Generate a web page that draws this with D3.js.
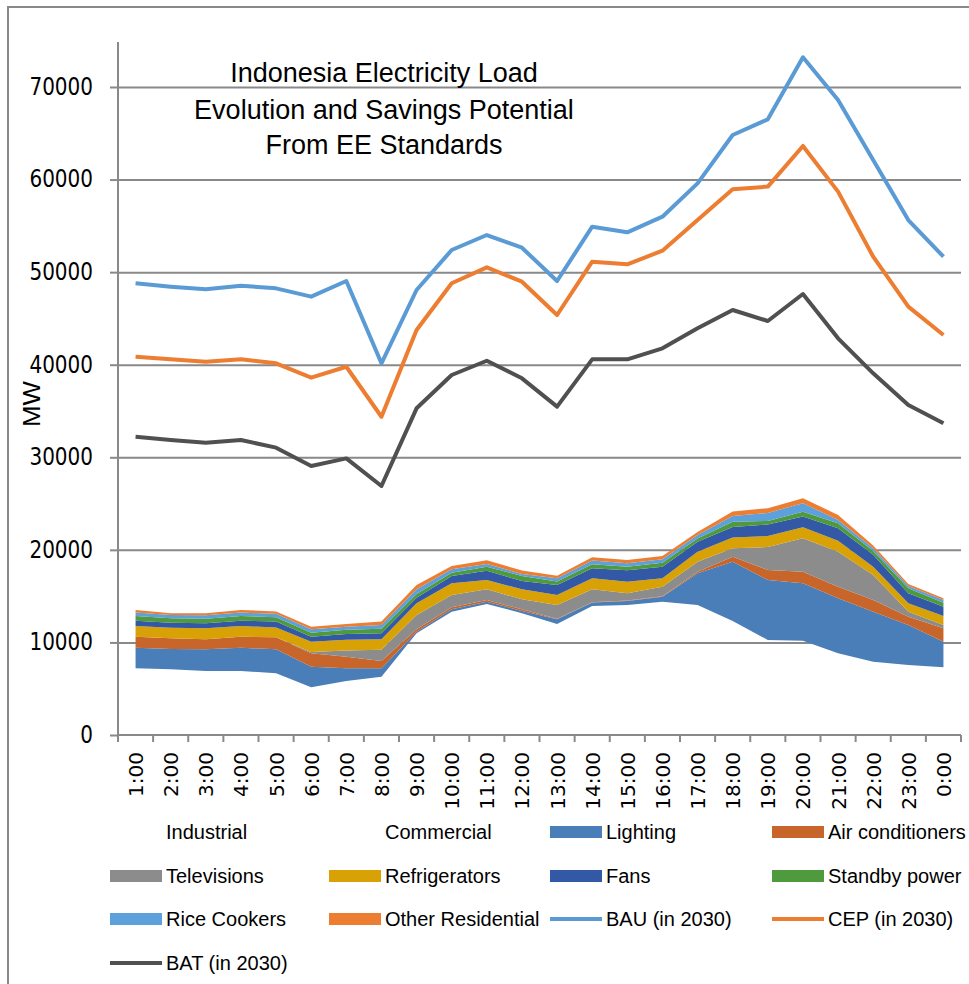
<!DOCTYPE html>
<html>
<head>
<meta charset="utf-8">
<script src="https://cdn.jsdelivr.net/npm/d3@7"></script>
<style>
  body { margin: 0; background: #fff; }
</style>
</head>
<body>
<div id="chart"></div>
<script>
// hours of the day
const hours = ["1:00", "2:00", "3:00", "4:00", "5:00", "6:00", "7:00", "8:00", "9:00", "10:00", "11:00", "12:00",
  "13:00", "14:00", "15:00", "16:00", "17:00", "18:00", "19:00", "20:00", "21:00", "22:00", "23:00", "0:00"];

// stacked load by end use (MW)
const industrial = [4300, 4250, 4150, 4150, 4000, 3100, 3500, 3800, 6600, 8000, 8500, 7900, 7200, 8400, 8400, 8600, 8400, 7400, 6200, 6100, 5300, 4750, 4550, 4400];
const commercial = [2900, 2850, 2760, 2760, 2670, 2050, 2330, 2500, 4390, 5320, 5650, 5250, 4790, 5540, 5640, 5800, 5640, 4920, 4060, 4090, 3530, 3170, 3010, 2910];
const lighting = [2230, 2190, 2340, 2520, 2590, 2230, 1370, 910, 170, 260, 250, 250, 510, 360, 430, 540, 3420, 6400, 6480, 6200, 5940, 5400, 4320, 2770];
const airConditioners = [1190, 1160, 1080, 1190, 1300, 1450, 1250, 790, 260, 220, 180, 180, 50, 50, 50, 50, 170, 540, 1080, 1250, 1250, 1260, 900, 1450];
const televisions = [0, 0, 0, 0, 0, 140, 670, 1220, 1550, 1330, 1160, 1080, 1500, 1400, 780, 1030, 1080, 910, 2490, 3610, 3780, 2700, 540, 360];
const refrigerators = [1160, 1140, 1190, 1160, 1040, 1110, 1170, 1120, 1260, 1260, 1000, 1080, 1080, 1190, 1250, 910, 1080, 1170, 1190, 1190, 1190, 900, 910, 970];
const fans = [570, 540, 540, 570, 650, 540, 620, 650, 600, 790, 1000, 900, 1080, 1080, 1260, 1250, 1080, 1130, 1240, 1150, 1340, 1300, 1080, 1000];
const standbyPower = [510, 480, 500, 510, 480, 430, 470, 500, 400, 360, 430, 540, 360, 430, 360, 430, 370, 570, 380, 540, 540, 400, 540, 430];
const riceCookers = [360, 360, 370, 360, 360, 370, 320, 400, 510, 370, 290, 220, 370, 390, 370, 370, 360, 620, 870, 910, 360, 300, 250, 290];
const otherResidential = [290, 180, 220, 290, 250, 280, 290, 360, 460, 350, 430, 360, 250, 370, 360, 360, 320, 490, 510, 540, 540, 300, 220, 180];

// 2030 scenarios (MW)
const bau = [48800, 48430, 48140, 48540, 48250, 47350, 49040, 40150, 48070, 52390, 54010, 52640, 49040, 54910, 54300, 55990, 59590, 64820, 66510, 73210, 68600, 62120, 55630, 51670];
const cep = [40870, 40580, 40330, 40580, 40150, 38600, 39780, 34380, 43750, 48800, 50520, 48970, 45370, 51130, 50840, 52320, 55630, 58950, 59240, 63630, 58700, 51670, 46270, 43210];
const bat = [32230, 31870, 31580, 31870, 31040, 29060, 29880, 26900, 35290, 38890, 40430, 38530, 35470, 40580, 40580, 41770, 43930, 45910, 44720, 47640, 42850, 39070, 35650, 33670];

const yTicks = [0, 10000, 20000, 30000, 40000, 50000, 60000, 70000];

const stackKeys = ["Industrial", "Commercial", "Lighting", "Air conditioners", "Televisions", "Refrigerators",
  "Fans", "Standby power", "Rice Cookers", "Other Residential"];
const stackValues = [industrial, commercial, lighting, airConditioners, televisions, refrigerators,
  fans, standbyPower, riceCookers, otherResidential];
const fills = {
  "Industrial": "none", "Commercial": "none", "Lighting": "#4a7eb8", "Air conditioners": "#c8652b",
  "Televisions": "#8c8c8c", "Refrigerators": "#d8a105", "Fans": "#3359a6", "Standby power": "#4f9a3c",
  "Rice Cookers": "#5ca0dc", "Other Residential": "#ed7d31"
};
const lineSeries = [
  { name: "BAU (in 2030)", values: bau, color: "#5b9bd5" },
  { name: "CEP (in 2030)", values: cep, color: "#ed7d31" },
  { name: "BAT (in 2030)", values: bat, color: "#505050" }
];

const width = 969, height = 984;
const left = 118, right = 961, bottom = 735;
const grey = "#898989";

const svg = d3.select("#chart").append("svg")
  .attr("width", width)
  .attr("height", height);

// outer frame
svg.append("rect")
  .attr("x", 8).attr("y", 7)
  .attr("width", 1000).attr("height", 1000)
  .attr("fill", "none")
  .attr("stroke", grey)
  .attr("stroke-width", 2);

const x = d3.scalePoint().domain(hours).range([left, right]).padding(0.5);
const band = d3.scaleBand().domain(hours).range([left, right]);
const y = d3.scaleLinear().domain([0, 70000]).range([bottom, 87]);

// gridlines
const grid = svg.append("g")
  .attr("transform", "translate(" + left + ",0)")
  .call(d3.axisLeft(y).tickValues(yTicks.slice(1)).tickSize(-(right - left)).tickFormat(""));
grid.select(".domain").remove();
grid.selectAll("line").attr("stroke", grey).attr("stroke-width", 2);

// y axis with labels
const yAxis = svg.append("g")
  .attr("transform", "translate(" + left + ",0)")
  .call(d3.axisLeft(y).tickValues(yTicks).tickSize(8).tickPadding(17).tickFormat(d3.format("d")));
yAxis.select(".domain").remove();
yAxis.selectAll("line").attr("stroke", grey).attr("stroke-width", 2);
yAxis.selectAll("text")
  .attr("font-family", "DejaVu Sans")
  .attr("font-size", 20)
  .attr("fill", "#000")
  .attr("dy", "0.3em")
  .attr("transform", "scale(1,1.22)");

svg.append("line")
  .attr("x1", left).attr("x2", left)
  .attr("y1", bottom).attr("y2", 42)
  .attr("stroke", grey).attr("stroke-width", 2);

// x axis
svg.append("line")
  .attr("x1", left).attr("x2", right)
  .attr("y1", bottom).attr("y2", bottom)
  .attr("stroke", grey).attr("stroke-width", 2);

svg.append("g").selectAll("line")
  .data(hours.map(h => band(h)).concat([right]))
  .join("line")
  .attr("x1", d => d).attr("x2", d => d)
  .attr("y1", bottom).attr("y2", bottom + 7)
  .attr("stroke", grey).attr("stroke-width", 2);

const xAxis = svg.append("g")
  .attr("transform", "translate(0," + bottom + ")")
  .call(d3.axisBottom(x).tickSize(0));
xAxis.select(".domain").remove();
xAxis.selectAll("text")
  .attr("font-family", "DejaVu Sans")
  .attr("font-size", 20)
  .attr("fill", "#000")
  .attr("y", 0)
  .attr("x", -17)
  .attr("dy", "0.35em")
  .attr("transform", "rotate(-90)")
  .style("text-anchor", "end");

// stacked areas
const rows = hours.map(function (h, i) {
  const row = { hour: h };
  stackKeys.forEach(function (k, j) { row[k] = stackValues[j][i]; });
  return row;
});
const series = d3.stack().keys(stackKeys)(rows);

const area = d3.area()
  .x(d => x(d.data.hour))
  .y0(d => y(d[0]))
  .y1(d => y(d[1]));

svg.append("g").selectAll("path")
  .data(series)
  .join("path")
  .attr("d", area)
  .attr("fill", d => fills[d.key]);

// scenario lines
const line = d3.line()
  .x((d, i) => x(hours[i]))
  .y(d => y(d));

svg.append("g").selectAll("path")
  .data(lineSeries)
  .join("path")
  .attr("d", d => line(d.values))
  .attr("fill", "none")
  .attr("stroke", d => d.color)
  .attr("stroke-width", 4)
  .attr("stroke-linejoin", "round");

// title
const title = ["Indonesia Electricity Load", "Evolution and Savings Potential", "From EE Standards"];
svg.append("g").selectAll("text")
  .data(title)
  .join("text")
  .attr("x", 384)
  .attr("y", (d, i) => [82, 119, 154][i])
  .attr("text-anchor", "middle")
  .attr("font-family", "Liberation Sans")
  .attr("font-size", 27)
  .attr("fill", "#000")
  .text(d => d);

// axis title
svg.append("text")
  .attr("transform", "translate(32,404) rotate(-90)")
  .attr("text-anchor", "middle")
  .attr("dy", "0.36em")
  .attr("font-family", "Liberation Sans")
  .attr("font-size", 23)
  .attr("textLength", 46)
  .attr("lengthAdjust", "spacingAndGlyphs")
  .attr("fill", "#000")
  .text("MW");

// legend
const legendItems = stackKeys.map(k => ({ name: k, type: "area", color: fills[k] }))
  .concat(lineSeries.map(s => ({ name: s.name, type: "line", color: s.color })));
const colX = [110, 329, 550, 772];
const rowY = [832, 876, 919, 963];

const legend = svg.append("g").selectAll("g")
  .data(legendItems)
  .join("g")
  .attr("transform", (d, i) => "translate(" + colX[i % 4] + "," + rowY[Math.floor(i / 4)] + ")");

legend.filter(d => d.type === "area" && d.color !== "none")
  .append("rect")
  .attr("x", 0).attr("y", -6)
  .attr("width", 52).attr("height", 12)
  .attr("fill", d => d.color);

legend.filter(d => d.type === "line")
  .append("line")
  .attr("x1", 0).attr("x2", 52)
  .attr("y1", 0).attr("y2", 0)
  .attr("stroke", d => d.color)
  .attr("stroke-width", 4);

legend.append("text")
  .attr("x", 56)
  .attr("y", 7)
  .attr("font-family", "Liberation Sans")
  .attr("font-size", 20)
  .attr("fill", "#000")
  .text(d => d.name);
</script>
</body>
</html>
